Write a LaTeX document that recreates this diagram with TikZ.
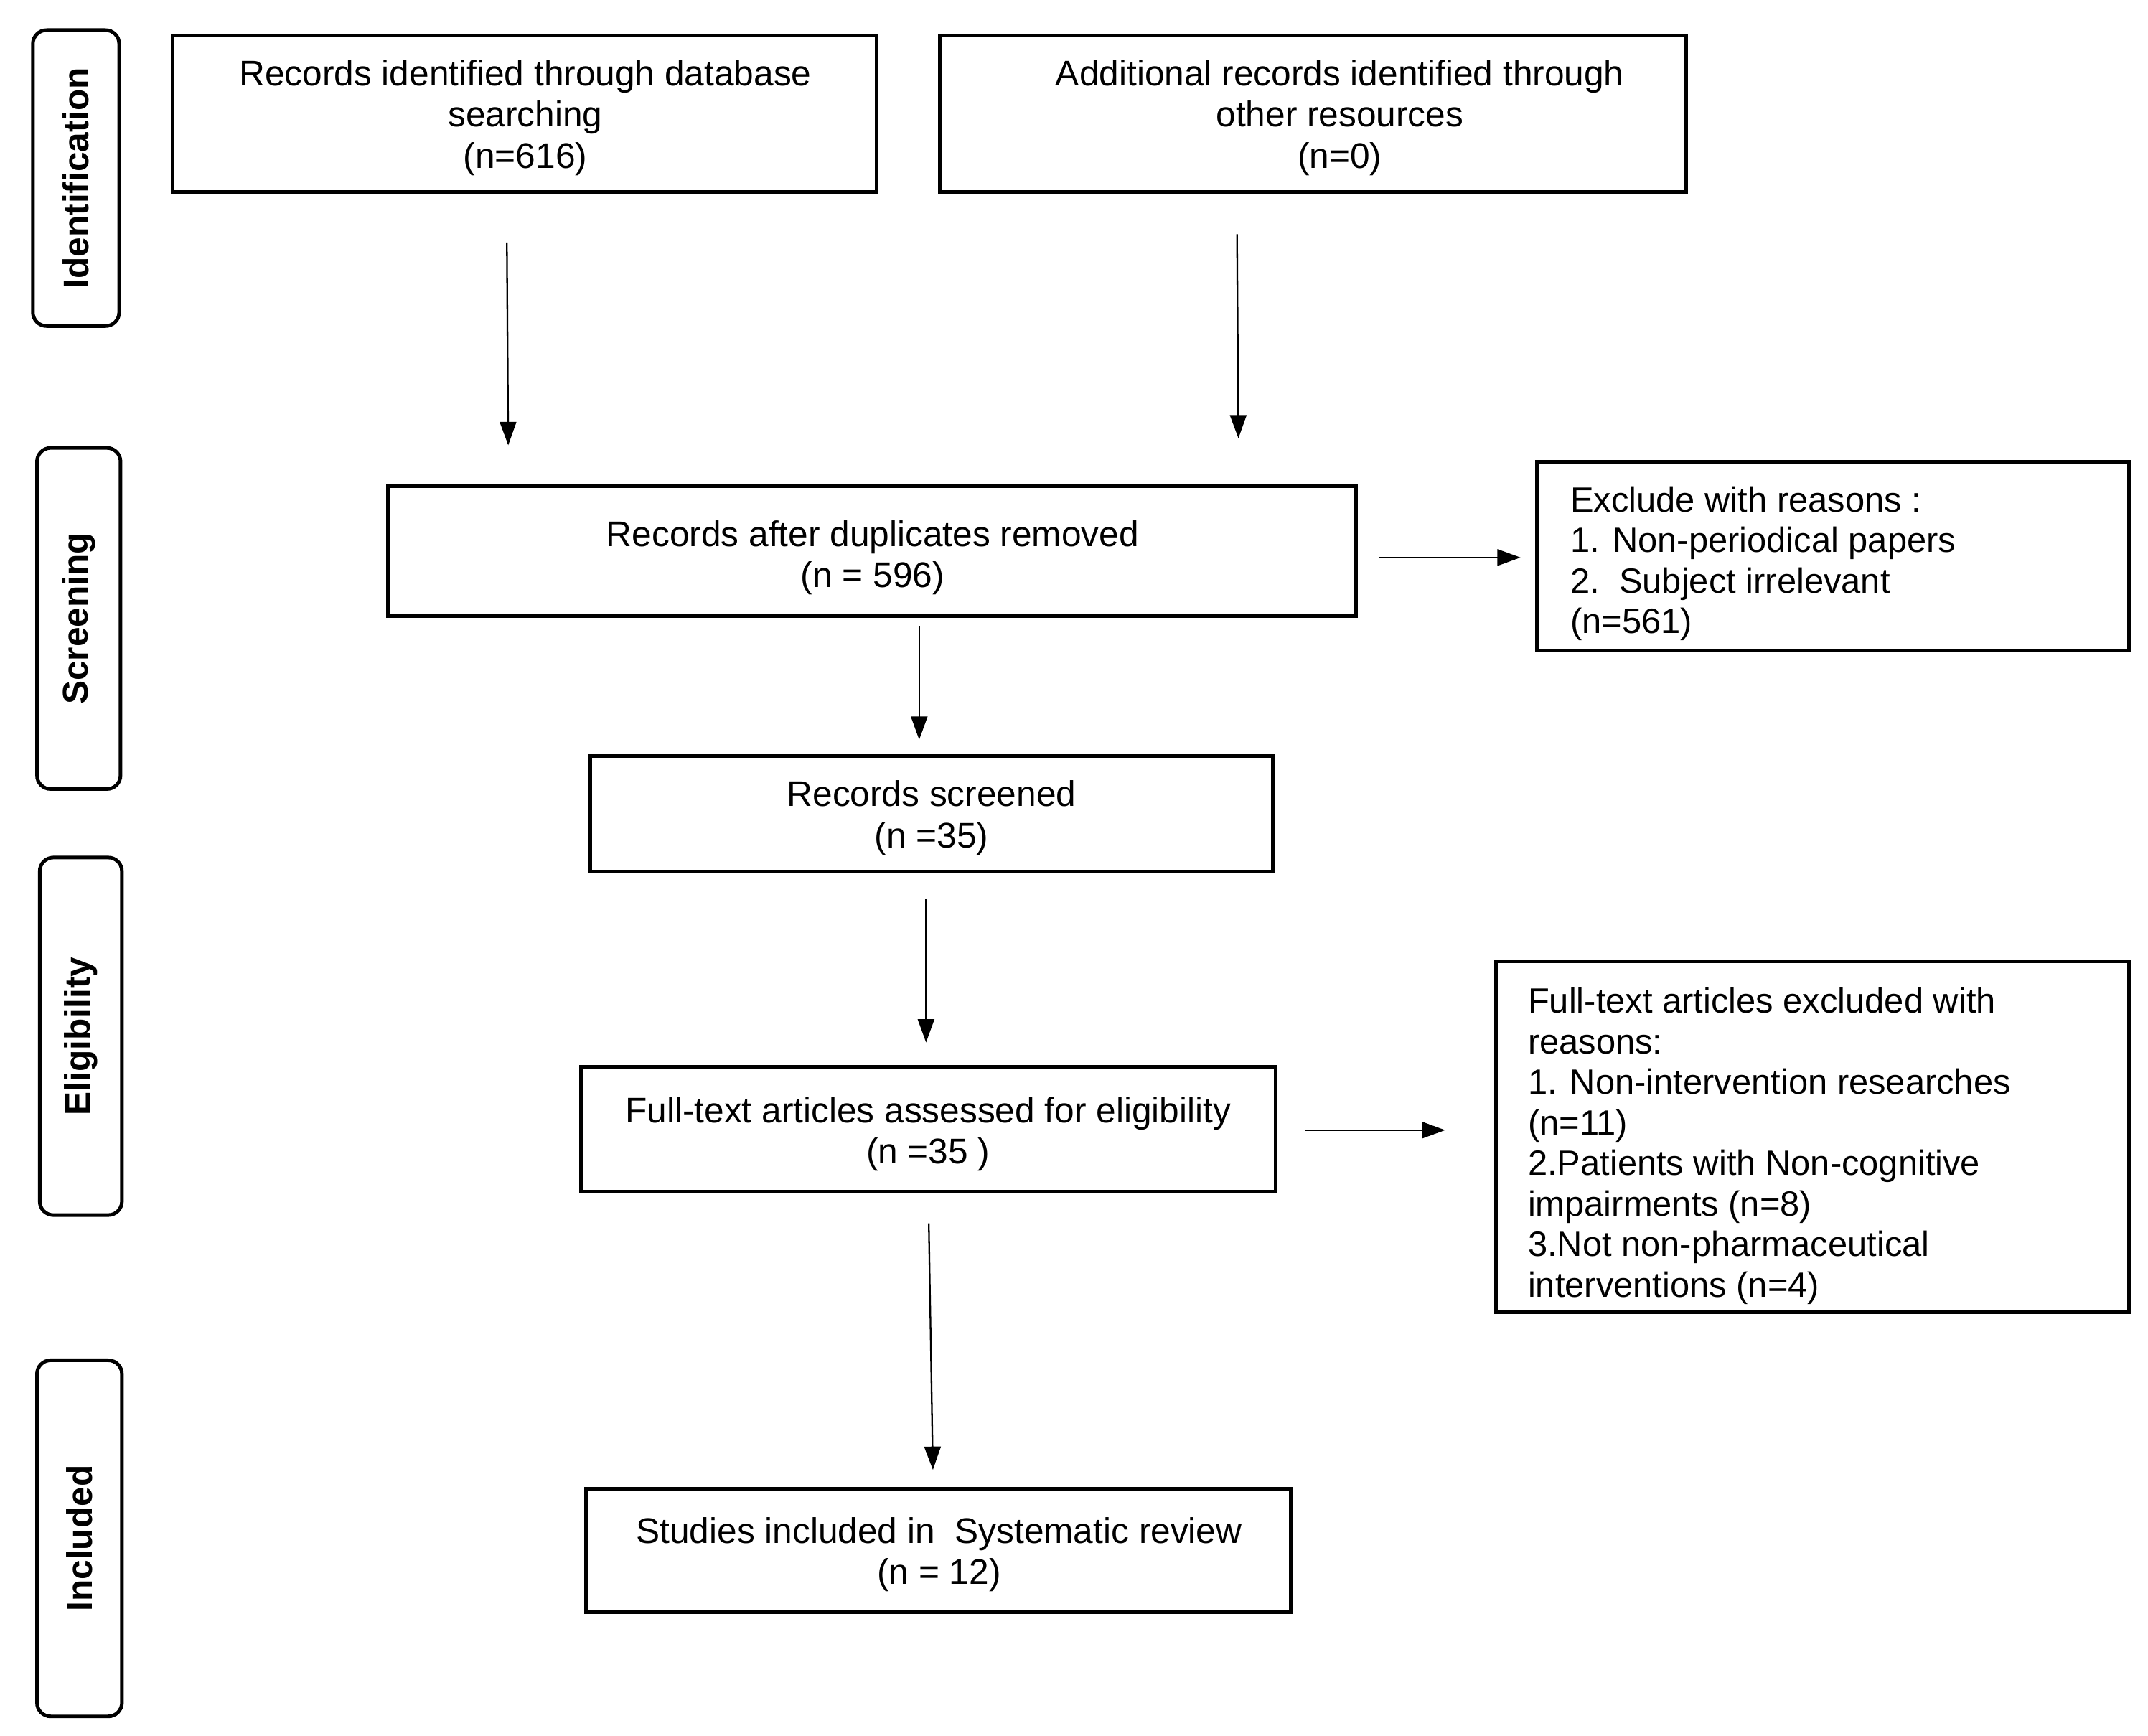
\documentclass[tikz,border=0pt]{standalone}
\usepackage{fontspec}
\setmainfont{Liberation Sans}
\usetikzlibrary{arrows.meta}
\begin{document}
\begin{tikzpicture}[x=0.5pt,y=-0.5pt,
  box/.style={draw=black,line width=1.3pt,rectangle,inner sep=0pt},
  side/.style={draw=black,line width=1.3pt,rectangle,rounded corners=5pt,inner sep=0pt},
  txt/.style={align=center,inner sep=0pt,font=\fontsize{13}{15}\selectfont},
  ltxt/.style={align=left,inner sep=0pt,anchor=west,font=\fontsize{12.8}{14.8}\selectfont},
  stxt/.style={rotate=90,inner sep=0pt,font=\bfseries\fontsize{13}{15}\selectfont},
  arr/.style={line width=0.6pt,-{Triangle[length=8.5pt,width=6pt]}}]
\useasboundingbox (0,0) rectangle (1568,1266.8);
% side labels
\node[side,minimum width=31.5pt,minimum height=108pt] (sid) at (55.5,130) {};
\node[stxt] (sidt) at (55.5,130) {Identification};
\node[side,minimum width=30.5pt,minimum height=124.5pt] (sscr) at (57.5,451.5) {};
\node[stxt] (sscrt) at (57.5,451.5) {Screening};
\node[side,minimum width=30pt,minimum height=130.5pt] (selig) at (59,756.5) {};
\node[stxt] (seligt) at (59,756.5) {Eligibility};
\node[side,minimum width=31pt,minimum height=130pt] (sinc) at (58,1123) {};
\node[stxt] (sinct) at (58,1123) {Included};
% boxes
\node[box,minimum width=257pt,minimum height=57pt] (b1) at (383,83) {};
\node[txt] (b1t) at (383.5,86) {Records identified through database\\searching\\(n=616)};
\node[box,minimum width=272.5pt,minimum height=57pt] (b2) at (958.5,83) {};
\node[txt] (b2t) at (978,86) {Additional records identified through\\other resources\\(n=0)};
\node[box,minimum width=353.5pt,minimum height=47.5pt] (b3) at (636.5,402.5) {};
\node[txt] (b3t) at (637,407) {Records after duplicates removed\\(n = 596)};
\node[box,minimum width=216pt,minimum height=69pt] (ex1) at (1338,406) {};
\node[ltxt] (ex1t) at (1146,411.5) {Exclude with reasons :\\1. Non-periodical papers\\2.\ \ Subject irrelevant\\(n=561)};
\node[box,minimum width=249pt,minimum height=42pt] (b4) at (680,594) {};
\node[txt] (b4t) at (680,597) {Records screened\\(n =35)};
\node[box,minimum width=253.5pt,minimum height=45.5pt] (b5) at (677.5,824.5) {};
\node[txt] (b5t) at (677.5,828) {Full-text articles assessed for eligibility\\(n =35 )};
\node[box,minimum width=231pt,minimum height=128pt] (ex2) at (1323,830) {};
\node[ltxt] (ex2t) at (1115,836.5) {Full-text articles excluded with\\reasons:\\1. Non-intervention researches\\(n=11)\\2.Patients with Non-cognitive\\impairments (n=8)\\3.Not non-pharmaceutical\\interventions (n=4)};
\node[box,minimum width=257pt,minimum height=45pt] (b7) at (685,1132) {};
\node[txt] (b7t) at (685.5,1135) {Studies included in\ \ Systematic review\\(n = 12)};
% arrow end points
\coordinate (a1s) at (370,177); \coordinate (a1e) at (371,325);
\coordinate (a2s) at (903,171); \coordinate (a2e) at (904,320);
\coordinate (a3s) at (1007,407); \coordinate (a3e) at (1110,407);
\coordinate (a4s) at (671,457); \coordinate (a4e) at (671,540);
\coordinate (a5s) at (676,656); \coordinate (a5e) at (676,761);
\coordinate (a6s) at (953,825); \coordinate (a6e) at (1055,825);
\coordinate (a7s) at (678,893); \coordinate (a7e) at (681,1073);
\draw[arr] (a1s) -- (a1e);
\draw[arr] (a2s) -- (a2e);
\draw[arr] (a3s) -- (a3e);
\draw[arr] (a4s) -- (a4e);
\draw[arr] (a5s) -- (a5e);
\draw[arr] (a6s) -- (a6e);
\draw[arr] (a7s) -- (a7e);
\end{tikzpicture}
\end{document}
